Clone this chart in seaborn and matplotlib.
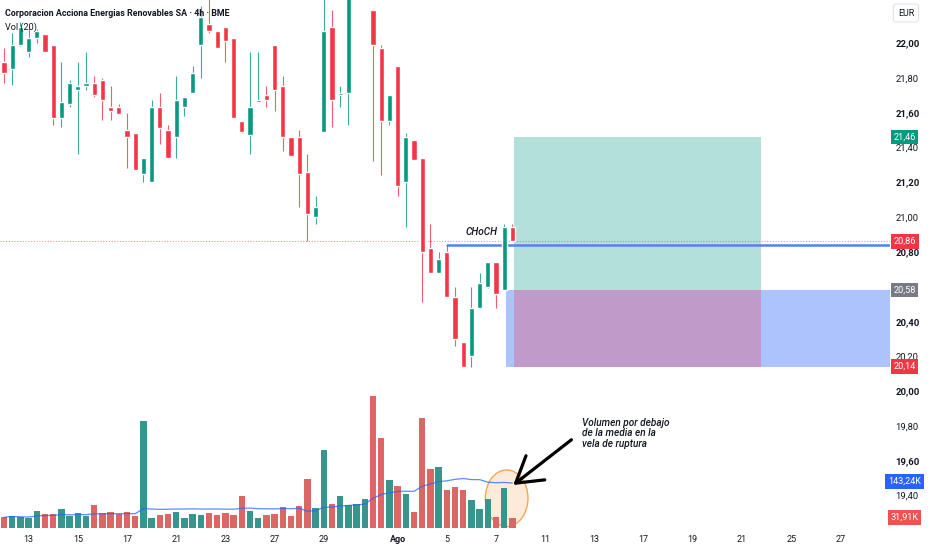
import numpy as np
import pandas as pd
import matplotlib
matplotlib.use("Agg")
import matplotlib.pyplot as plt
import seaborn as sns
from matplotlib.patches import Ellipse, Rectangle
from matplotlib.transforms import blended_transform_factory

# 4h candles, index 0 = first visible bar
opens = [21.89, 21.85, 21.99, 21.95, 22.03, 22.05, 21.99, 21.57, 21.65, 21.73,
         21.75, 21.77, 21.79, 21.63, 21.63, 21.50, 21.48, 21.25, 21.20, 21.63,
         21.50, 21.46, 21.63, 21.71, 21.99, 22.11, 22.07, 22.09, 22.03, 21.55,
         21.47, 21.66, 21.70, 21.99, 21.75, 21.46, 21.46, 21.26, 21.00, 21.49,
         22.09, 21.70, 21.71, 22.30, 22.40, 22.19, 21.97, 21.55, 21.87, 21.20,
         21.44, 21.34, 20.82, 20.68, 20.80, 20.54, 20.28, 20.20, 20.48, 20.60,
         20.74, 20.58, 20.94]
highs = [21.97, 22.06, 22.12, 22.09, 22.08, 22.05, 21.99, 21.89, 21.79, 21.89,
         21.95, 21.81, 21.80, 21.75, 21.65, 21.60, 21.48, 21.34, 21.67, 21.71,
         21.53, 21.81, 21.69, 21.87, 22.21, 22.28, 22.07, 22.09, 22.03, 21.55,
         21.95, 21.95, 21.75, 21.99, 21.81, 21.46, 21.50, 21.36, 21.12, 22.30,
         22.19, 21.75, 22.35, 22.45, 22.50, 22.19, 21.99, 21.70, 21.87, 21.48,
         21.44, 21.34, 20.96, 20.80, 20.84, 20.60, 20.28, 20.60, 20.68, 20.74,
         20.74, 20.96, 20.96]
lows = [21.77, 21.76, 21.98, 21.92, 22.00, 21.95, 21.53, 21.52, 21.63, 21.36,
        21.73, 21.69, 21.56, 21.56, 21.59, 21.28, 21.27, 21.20, 21.20, 21.42,
        21.34, 21.34, 21.58, 21.71, 21.80, 22.06, 21.97, 21.89, 21.57, 21.48,
        21.36, 21.66, 21.63, 21.61, 21.38, 21.35, 21.06, 20.86, 20.96, 21.49,
        21.52, 21.63, 21.53, 22.28, 22.35, 21.32, 21.24, 21.53, 21.12, 20.94,
        21.33, 20.51, 20.68, 20.68, 20.54, 20.26, 20.14, 20.14, 20.48, 20.59,
        20.48, 20.58, 20.86]
closes = [21.83, 21.99, 22.09, 22.03, 22.07, 21.95, 21.57, 21.66, 21.77, 21.75,
          21.77, 21.70, 21.67, 21.61, 21.59, 21.46, 21.27, 21.34, 21.63, 21.51,
          21.34, 21.67, 21.69, 21.83, 22.15, 22.07, 21.97, 22.01, 21.57, 21.49,
          21.63, 21.67, 21.67, 21.73, 21.46, 21.35, 21.25, 21.02, 21.06, 22.07,
          21.67, 21.71, 22.30, 22.40, 22.45, 21.99, 21.55, 21.70, 21.18, 21.46,
          21.33, 20.80, 20.68, 20.76, 20.54, 20.30, 20.14, 20.48, 20.62, 20.74,
          20.56, 20.94, 20.86]
# volume in thousands
volumes = [33.0, 38.1, 33.0, 30.9, 51.5, 43.3, 43.3, 57.7, 36.1, 47.4,
           38.1, 71.1, 45.3, 49.4, 43.3, 49.4, 38.1, 329.6, 31.9, 41.2,
           43.3, 49.4, 29.9, 43.3, 39.1, 47.4, 41.2, 45.3, 39.1, 99.9,
           53.6, 30.9, 41.2, 43.3, 65.9, 37.1, 67.0, 150.4, 62.8, 242.1,
           74.2, 99.9, 71.1, 74.2, 90.6, 406.9, 277.1, 148.3, 128.8, 105.1,
           50.5, 340.9, 181.3, 189.5, 117.4, 127.7, 117.4, 86.5, 57.7, 88.6,
           35.0, 122.6, 31.91]
vol_ma_label = 143.24

# date labels (bar index where the day starts)
date_pos = [3, 9, 15, 21, 27, 33, 39, 48, 54, 60, 66, 72, 78, 84, 90, 96, 102]
date_labels = ["13", "15", "17", "21", "23", "27", "29", "Ago", "5", "7",
               "11", "13", "17", "19", "21", "25", "27"]

# long position tool
tp_price = 21.46
entry_price = 20.58
stop_price = 20.14
pos_start = 62.2
pos_end = 92.3
risk_start = 61.2
choch_bar = 54
choch_level = 20.84

GREEN = "#089981"
RED = "#F23645"
VGREEN = "#26A69A"
VRED = "#EF5350"
TXT = "#131722"

sns.set_style("white")
plt.rcParams["font.family"] = ["Roboto", "DejaVu Sans"]

df = pd.DataFrame({"i": np.arange(len(opens)), "o": opens, "h": highs,
                   "l": lows, "c": closes, "v": volumes})
df["dir"] = np.where(df["c"] >= df["o"], "up", "down")
df["ma"] = df["v"].rolling(20, min_periods=1).mean()

fig = plt.figure(figsize=(9.32, 5.5), dpi=100)
ax = fig.add_axes([0, 0.04, 890 / 932, 0.96])
ax2 = ax.twinx()
ax.set_zorder(ax2.get_zorder() + 1)
ax.patch.set_visible(False)

xl = (-0.49, 108.05)

# volume pane
sns.barplot(data=df, x="i", y="v", hue="dir", palette={"up": VGREEN, "down": VRED},
            native_scale=True, dodge=False, width=0.8, legend=False, ax=ax2,
            linewidth=0, zorder=2)
sns.lineplot(data=df, x="i", y="ma", color="#2962FF", lw=0.9, alpha=0.75, ax=ax2, zorder=3)
ax2.add_patch(Ellipse((61.3, 92), 5.2, 175, fc="#FDE3CC", ec="#F08A2C", lw=1.0,
                      alpha=0.75, zorder=1))
ax2.set_ylim(0, 1631)
ax2.yaxis.set_visible(False)
ax2.set_xlabel("")
ax2.set_ylabel("")

# position boxes
ax.add_patch(Rectangle((risk_start, stop_price), xl[1] - risk_start, entry_price - stop_price,
                       fc="#ADC3FE", ec="none", zorder=1))
ax.add_patch(Rectangle((pos_start, entry_price), pos_end - pos_start, tp_price - entry_price,
                       fc="#B3E0D8", ec="none", zorder=1.1))
ax.add_patch(Rectangle((pos_start, stop_price), pos_end - pos_start, entry_price - stop_price,
                       fc="#C09AC8", ec="none", zorder=1.1))

# last price and CHoCH level
ax.axhline(closes[-1], ls=(0, (1, 1.5)), color=RED, lw=0.8, alpha=0.55, zorder=1.5)
ax.plot([choch_bar, xl[1]], [choch_level, choch_level], color="#5B7FEA", lw=1.8, zorder=1.6)

# candles
cols = np.where(df["dir"] == "up", GREEN, RED)
ax.vlines(df["i"], df["l"], df["h"], colors=cols, lw=0.8, alpha=0.8, zorder=2)
body = (df["c"] - df["o"]).abs().clip(lower=0.008)
ax.bar(df["i"], body, bottom=df[["o", "c"]].min(axis=1), width=0.65, color=cols, zorder=3)

ax.set_xlim(*xl)
ax.set_ylim(19.213, 22.247)
for s in ax.spines.values():
    s.set_visible(False)
for s in ax2.spines.values():
    s.set_visible(False)

# price axis on the right (20,60 sits under the entry tag)
ax.yaxis.tick_right()
ticks = np.round(np.arange(19.4, 22.01, 0.2), 2)
ax.set_yticks(ticks)
ax.set_yticklabels(["" if abs(t - 20.6) < 1e-6 else f"{t:.2f}".replace(".", ",") for t in ticks],
                   fontsize=6.8, color=TXT)
for t, lab in zip(ticks, ax.get_yticklabels()):
    if abs(round(t / 0.4) - t / 0.4) < 1e-6:
        lab.set_fontweight("bold")
ax.tick_params(axis="y", length=0, pad=4.0)

ax.set_xticks(date_pos)
ax.set_xticklabels(date_labels, fontsize=6.5, color=TXT)
ax.get_xticklabels()[date_labels.index("Ago")].set_fontweight("bold")
ax.tick_params(axis="x", length=0, pad=5)
ax.set_xlabel("")
ax.set_ylabel("")

# price tags
tr = blended_transform_factory(ax.transAxes, ax.transData)
tags = [(tp_price, GREEN), (closes[-1], RED), (entry_price, "#787B86"), (stop_price, RED)]
for val, c in tags:
    ax.text(1.0163, val, f"{val:.2f}".replace(".", ","), transform=tr, ha="center", va="center",
            fontsize=6.6, color="white", zorder=6, clip_on=False,
            bbox=dict(boxstyle="square,pad=0.3", fc=c, ec="none"))
tr2 = blended_transform_factory(ax.transAxes, ax2.transData)
vtags = [(vol_ma_label, "#2962FF"), (volumes[-1], VRED)]
for val, c in vtags:
    ax.text(1.0163, val, f"{val:.2f}K".replace(".", ","), transform=tr2, ha="center", va="center",
            fontsize=6.6, color="white", zorder=6, clip_on=False,
            bbox=dict(boxstyle="square,pad=0.3", fc=c, ec="none"))

# annotations
ax.text(58.2, 20.914, "CHoCH", fontsize=7.2, style="italic", fontweight="medium",
        color=TXT, ha="center", va="center", zorder=5)
ax.text(70.5, 19.845, "Volumen por debajo\nde la media en la\nvela de ruptura", fontsize=7.2,
        style="italic", fontweight="medium", color=TXT, ha="left", va="top",
        linespacing=1.05, zorder=5)
ax.annotate("", xy=(62.1, 19.46), xytext=(69.2, 19.72),
            arrowprops=dict(arrowstyle="->,head_length=0.9,head_width=0.55", color="black",
                            lw=2.3, mutation_scale=20, shrinkA=0, shrinkB=0), zorder=5)

fig.text(5 / 932, 1 - 13 / 550, "Corporacion Acciona Energias Renovables SA · 4h · BME",
         fontsize=6.4, fontweight="bold", color=TXT, ha="left", va="center")
fig.text(5 / 932, 1 - 27 / 550, "Vol (20)", fontsize=6.6, color=TXT, ha="left", va="center")
fig.text(906 / 932, 1 - 13 / 550, "EUR", fontsize=6.4, color=TXT, ha="center", va="center",
         bbox=dict(boxstyle="round,pad=0.5,rounding_size=0.3", fc="white", ec="#E0E3EB", lw=0.8))

fig.savefig("out.png", dpi=100)
